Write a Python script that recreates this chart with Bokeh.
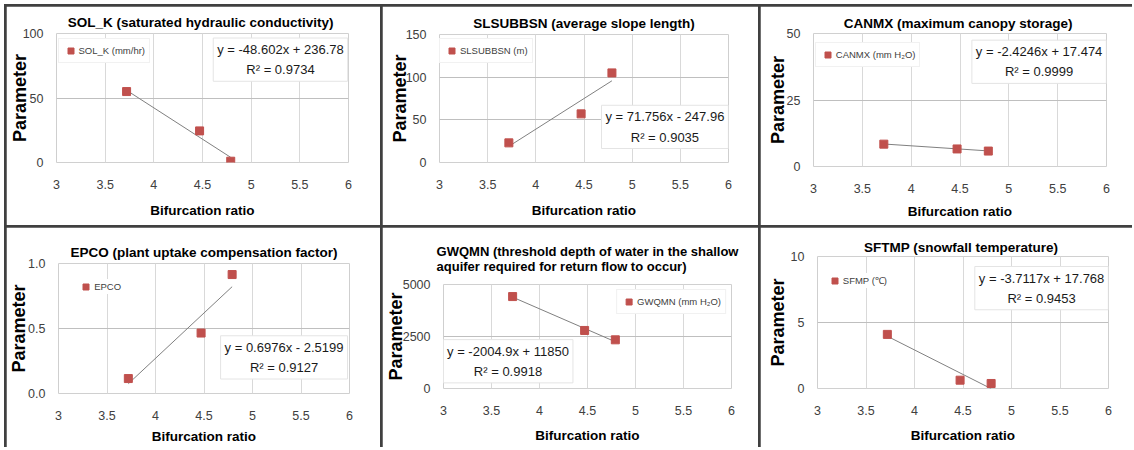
from bokeh.plotting import figure
from bokeh.layouts import row, column
from bokeh.models import Range1d, FixedTicker, NumeralTickFormatter, Label, Legend, LegendItem
from bokeh.embed import file_html
from bokeh.resources import INLINE

# ---------------- data ----------------
bifurcation_ratio = [3.72, 4.47, 4.79]

sol_k = [55.0, 24.5, 1.0]
slsubbsn = [23.0, 57.0, 105.0]
canmx = [8.4, 6.6, 5.8]
epco = [0.115, 0.465, 0.915]
gwqmn = [4420.0, 2790.0, 2340.0]
sftmp = [4.1, 0.63, 0.38]

titles = [
    "SOL_K  (saturated hydraulic conductivity)",
    "SLSUBBSN (average slope length)",
    "CANMX  (maximum canopy storage)",
    "EPCO (plant uptake compensation factor)",
    "GWQMN (threshold depth of water in the shallow\naquifer required for return flow to occur)",
    "SFTMP  (snowfall temperature)",
]
series_labels = ["SOL_K (mm/hr)", "SLSUBBSN (m)", "CANMX (mm H\u2082O)", "EPCO",
                 "GWQMN (mm H\u2082O)", "SFMP (\u2103)"]
slopes = [-48.602, 71.756, -2.4246, 0.6976, -2004.9, -3.7117]
intercepts = [236.78, -247.96, 17.474, -2.5199, 11850.0, 17.768]
equation_texts = ["y = -48.602x + 236.78", "y = 71.756x - 247.96", "y = -2.4246x + 17.474",
                  "y = 0.6976x - 2.5199", "y = -2004.9x + 11850", "y = -3.7117x + 17.768"]
r2_texts = ["R\u00b2 = 0.9734", "R\u00b2 = 0.9035", "R\u00b2 = 0.9999",
            "R\u00b2 = 0.9127", "R\u00b2 = 0.9918", "R\u00b2 = 0.9453"]

x_ticks = [3, 3.5, 4, 4.5, 5, 5.5, 6]
y_ticks_list = [[0, 50, 100], [0, 50, 100, 150], [0, 25, 50], [0, 0.5, 1.0], [0, 2500, 5000], [0, 5, 10]]
y_tick_formats = ["0", "0", "0", "0.0", "0", "0"]
x_label = "Bifurcation ratio"
y_label = "Parameter"

series_values = [sol_k, slsubbsn, canmx, epco, gwqmn, sftmp]

# ---------------- style / layout ----------------
FONT = "Liberation Sans"
RED = "#c0504d"
LEG_PAD = 4
LEG_GLYPH = 15

layout_cfg = [
    dict(w=374, h=219, l=49, r=32, t=27, b=63, tstand=8, tsize="13.5px", ystand=-10, xstand=11,
         leg=("xy", 13, 18.5), leg_border=True, eq=(0.767, 0.035)),
    dict(w=376, h=219, l=57, r=30, t=28, b=63, tstand=8, tsize="13.5px", ystand=-7, xstand=11,
         leg=("xy", 8, 17), leg_border=True, eq=(0.78, 0.553)),
    dict(w=372, h=219, l=53, r=26, t=27, b=59, tstand=5, tsize="13.5px", ystand=-4, xstand=8,
         leg=("xy", 13.3, 22.7), leg_border=True, eq=(0.77, 0.05)),
    dict(w=374, h=220, l=52, r=31, t=36, b=54, tstand=8, tsize="13.5px", ystand=-4, xstand=6,
         leg=("xy", 31.7, 19.3), leg_border=False, eq=(0.775, 0.556)),
    dict(w=376, h=220, l=60, r=27, t=57, b=59, tstand=22, tsize="13px", ystand=-6, xstand=10,
         leg=("tr", 5, 5), leg_border=True, eq=(0.224, 0.53)),
    dict(w=372, h=220, l=57, r=24, t=29, b=59, tstand=3, tsize="13.5px", ystand=0, xstand=10,
         leg=("xy", 21.3, 20), leg_border=False, eq=(0.77, 0.076)),
]

figs = []
for i in range(6):
    c = layout_cfg[i]
    yt = y_ticks_list[i]
    y0, y1 = yt[0], yt[-1]
    x0, x1 = x_ticks[0], x_ticks[-1]
    p = figure(width=c["w"], height=c["h"], output_backend="svg", toolbar_location=None,
               x_range=Range1d(x0, x1), y_range=Range1d(y0, y1),
               min_border_left=c["l"], min_border_right=c["r"],
               min_border_top=c["t"], min_border_bottom=c["b"],
               title=titles[i])
    p.frame_align = False
    p.outline_line_color = None
    p.background_fill_color = "white"
    p.border_fill_color = "white"

    p.title.text_font = FONT
    p.title.text_font_style = "bold"
    p.title.text_font_size = c["tsize"]
    p.title.text_color = "#000000"
    p.title.align = "center"
    p.title.standoff = c["tstand"]

    # axes
    p.xaxis.ticker = FixedTicker(ticks=x_ticks)
    p.xaxis.formatter = NumeralTickFormatter(format="0.[0]")
    p.yaxis.ticker = FixedTicker(ticks=yt)
    p.yaxis.formatter = NumeralTickFormatter(format=y_tick_formats[i])
    for ax in (p.xaxis[0], p.yaxis[0]):
        ax.axis_line_color = None
        ax.major_tick_line_color = None
        ax.minor_tick_line_color = None
        ax.major_tick_out = 0
        ax.major_tick_in = 0
        ax.minor_tick_out = 0
        ax.minor_tick_in = 0
        ax.major_label_text_font = FONT
        ax.major_label_text_font_size = "12.5px"
        ax.major_label_text_color = "#404040"
        ax.axis_label_text_font = FONT
        ax.axis_label_text_font_style = "bold"
        ax.axis_label_text_color = "#000000"
    p.xaxis.axis_label = x_label
    p.xaxis.axis_label_text_font_size = "13.5px"
    p.xaxis.major_label_standoff = 17
    p.xaxis.axis_label_standoff = c["xstand"]
    p.yaxis.axis_label = y_label
    p.yaxis.axis_label_text_font_size = "18px"
    p.yaxis.major_label_standoff = 13
    p.yaxis.axis_label_standoff = c["ystand"]

    p.xgrid.grid_line_color = "#d9d9d9"
    p.ygrid.grid_line_color = "#bfbfbf"

    # trendline from the fitted equation, over the data's x extent
    xs = bifurcation_ratio
    xa, xb = min(xs), max(xs)
    p.line([xa, xb], [slopes[i] * xa + intercepts[i], slopes[i] * xb + intercepts[i]],
           line_color="#808080", line_width=1)
    r = p.scatter(xs, series_values[i], marker="square", size=8,
                  fill_color=RED, line_color=RED)

    # legend
    leg = Legend(items=[LegendItem(label=series_labels[i], renderers=[r])])
    leg.label_text_font = FONT
    leg.label_text_font_size = "9.5px"
    leg.label_text_color = "#404040"
    leg.glyph_width = LEG_GLYPH
    leg.glyph_height = LEG_GLYPH
    leg.label_standoff = 1
    leg.padding = LEG_PAD
    leg.spacing = 0
    leg.background_fill_color = "white"
    leg.background_fill_alpha = 1.0
    leg.border_line_color = "#e4e4e4" if c["leg_border"] else None
    kind, mx, my = c["leg"]
    frame_h = c["h"] - c["t"] - c["b"]
    if kind == "tr":
        leg.location = "top_right"
        leg.margin = mx
    else:
        box_left = max(0, mx - LEG_PAD - LEG_GLYPH / 2)
        box_top = my - LEG_PAD - LEG_GLYPH / 2
        box_h = 2 * LEG_PAD + LEG_GLYPH
        leg.location = (box_left, frame_h - box_top - box_h)
        leg.margin = 0
    p.add_layout(leg)

    # equation box
    fx, fy = c["eq"]
    lab = Label(x=x0 + fx * (x1 - x0), y=y1 - fy * (y1 - y0),
                text=equation_texts[i] + "\n" + r2_texts[i],
                text_align="center", text_baseline="top",
                text_font=FONT, text_font_size="13px", text_color="#1a1a1a",
                text_line_height=1.35,
                border_line_color="#e4e4e4", background_fill_color="white",
                padding=4)
    p.add_layout(lab)
    figs.append(p)

top_row = row(figs[0], figs[1], figs[2], spacing=2)
bottom_row = row(figs[3], figs[4], figs[5], spacing=2)
page = column(top_row, bottom_row, spacing=2)
page.styles = {"background-color": "#404040", "padding": "2px 0px 0px 2px",
               "margin": "4px 0px 0px 4px"}

open("out.html", "w").write(file_html(page, INLINE))
